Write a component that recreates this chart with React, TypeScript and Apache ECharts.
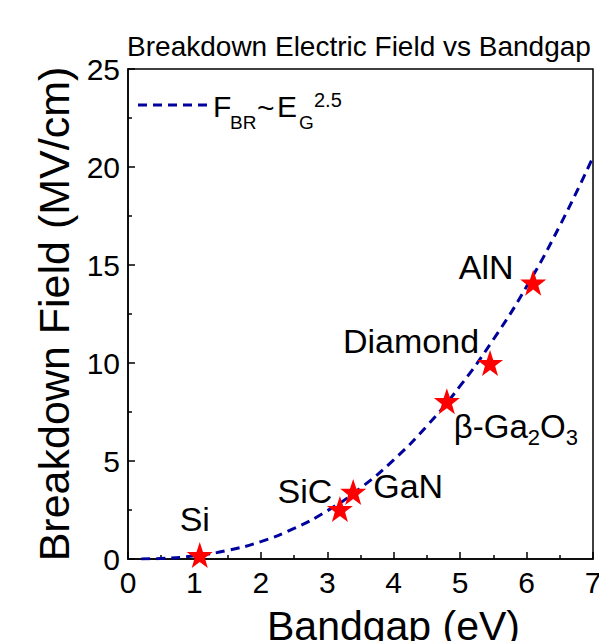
import React, { useEffect, useRef } from "react";
import * as echarts from "echarts";

const materials = ["Si", "SiC", "GaN", "β-Ga2O3", "Diamond", "AlN"];
const bandgaps = [1.08, 3.19, 3.39, 4.8, 5.45, 6.1];
const fields = [0.2, 2.55, 3.42, 8.05, 10.0, 14.1];
const labelOffsets: [number, number][] = [
  [-5, -36],
  [-35, -18],
  [55, -6],
  [69, 25],
  [-79, -22],
  [-47, -16],
];

const fitX = [0.2, 0.5, 1.0, 1.5, 2.0, 2.5, 3.0, 3.5, 4.0, 4.5, 5.0, 5.5, 6.0, 6.5, 7.0];
const fitY = [0.003, 0.028, 0.16, 0.44, 0.89, 1.56, 2.46, 3.62, 5.06, 6.79, 8.83, 11.2, 13.9, 17.0, 20.5];

const xTicks = [0, 1, 2, 3, 4, 5, 6, 7];
const yTicks = [0, 5, 10, 15, 20, 25];

const STAR =
  "path://M50,0 L61.8,35.3 L97.6,35.3 L68.7,57.1 L79.4,92.7 L50,71 L20.6,92.7 L31.3,57.1 L2.4,35.3 L38.2,35.3 Z";

const FONT = "Liberation Sans, Arial, sans-serif";

export default function App() {
  const ref = useRef<HTMLDivElement>(null);
  useEffect(() => {
    document.body.style.margin = "0";
    document.body.style.overflow = "hidden";
    document.documentElement.style.overflow = "hidden";
    const chart = echarts.init(ref.current!, null, { renderer: "svg" });
    const scatterData = materials.map((m, i) => {
      const label: any = {
        show: true,
        position: "inside",
        offset: labelOffsets[i],
        color: "#000",
        fontFamily: FONT,
        fontSize: 34,
        formatter: m,
      };
      if (m === "β-Ga2O3") {
        label.formatter = "{m|β-Ga}{s|2}{m|O}{s|3}";
        label.rich = {
          m: { fontSize: 33, fontFamily: FONT, color: "#000", lineHeight: 44, verticalAlign: "middle" },
          s: { fontSize: 22, fontFamily: FONT, color: "#000", lineHeight: 44, verticalAlign: "bottom" },
        };
      }
      return { value: [bandgaps[i], fields[i]], name: m, label };
    });
    const txt = (text: string, x: number, y: number, fontSize: number) => ({
      type: "text",
      x,
      y,
      style: { text, fontSize, fontFamily: FONT, fill: "#000", verticalAlign: "middle" },
    });
    chart.setOption({
      animation: false,
      backgroundColor: "#fff",
      textStyle: { fontFamily: FONT },
      title: {
        text: "Breakdown Electric Field vs Bandgap",
        left: 354,
        top: 27,
        textAlign: "center",
        textStyle: { fontSize: 28, fontWeight: "normal", color: "#000", fontFamily: FONT },
      },
      grid: {
        left: 128,
        right: 6,
        top: 69,
        bottom: 82,
        containLabel: false,
        outerBoundsMode: "none",
        show: true,
        borderColor: "#000",
        borderWidth: 1.5,
        backgroundColor: "transparent",
      },
      xAxis: {
        type: "value",
        min: 0,
        max: 7,
        interval: 1,
        name: "Bandgap (eV)",
        nameLocation: "middle",
        nameGap: 46,
        nameTextStyle: { fontSize: 41, color: "#000", fontFamily: FONT, padding: [0, 0, 0, 66] },
        axisLine: { show: true, onZero: false, lineStyle: { color: "#000", width: 1.5 } },
        axisTick: { show: true, inside: true, length: 7, lineStyle: { color: "#000", width: 1.5 } },
        minorTick: { show: true, splitNumber: 2, length: 4, lineStyle: { color: "#000", width: 1.5 } },
        axisLabel: { fontSize: 30, color: "#000", margin: 8, fontFamily: FONT, formatter: (v: number) => (xTicks.includes(v) ? String(v) : "") },
        splitLine: { show: false },
      },
      yAxis: {
        type: "value",
        min: 0,
        max: 25,
        interval: 5,
        name: "Breakdown Field (MV/cm)",
        nameLocation: "middle",
        nameGap: 53,
        nameTextStyle: { fontSize: 43, color: "#000", fontFamily: FONT },
        axisLine: { show: true, onZero: false, lineStyle: { color: "#000", width: 1.5 } },
        axisTick: { show: true, inside: true, length: 7, lineStyle: { color: "#000", width: 1.5 } },
        minorTick: { show: true, splitNumber: 2, length: 4, lineStyle: { color: "#000", width: 1.5 } },
        axisLabel: { fontSize: 30, color: "#000", margin: 8, fontFamily: FONT, formatter: (v: number) => (yTicks.includes(v) ? String(v) : "") },
        splitLine: { show: false },
      },
      series: [
        {
          type: "line",
          data: fitX.map((x, i) => [x, fitY[i]]),
          smooth: true,
          showSymbol: false,
          lineStyle: { color: "#00009c", width: 3, type: [9, 6] },
          z: 2,
        },
        {
          type: "scatter",
          data: scatterData,
          symbol: STAR,
          symbolSize: 26,
          itemStyle: { color: "#ff0000", opacity: 1 },
          z: 3,
        },
      ],
      graphic: [
        {
          type: "line",
          shape: { x1: 138, y1: 105, x2: 208, y2: 105 },
          style: { stroke: "#00009c", lineWidth: 3, lineDash: [9, 6] },
        },
        txt("F", 213, 106.5, 30),
        txt("BR", 230, 122, 19),
        txt("~", 257, 107, 30),
        txt("E", 277, 106.5, 30),
        txt("G", 299, 122, 19),
        txt("2.5", 314, 100, 20),
      ],
    });
    return () => chart.dispose();
  }, []);
  return <div ref={ref} style={{ width: 599, height: 641 }} />;
}
